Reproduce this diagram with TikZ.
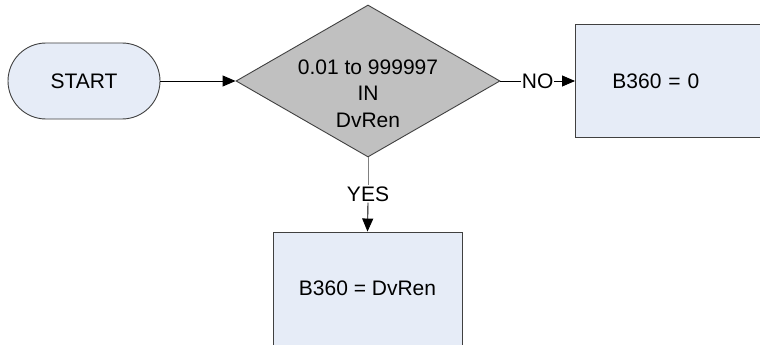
\documentclass[tikz,border=0pt]{standalone}
\usepackage{fontspec}
\setmainfont{Liberation Sans}
\usetikzlibrary{shapes.geometric,shapes.misc,arrows.meta}
\definecolor{boxfill}{HTML}{E6ECF7}
\definecolor{diafill}{HTML}{C0C0C0}
\definecolor{edge}{HTML}{404040}
\definecolor{greyline}{HTML}{808080}
\begin{document}
\begin{tikzpicture}[x=1pt,y=1pt,
  every node/.style={font=\fontsize{21}{26.5}\selectfont},
  startbox/.style={rounded rectangle, draw=edge, fill=boxfill, line width=0.9pt, minimum width=152pt, minimum height=76pt, inner sep=0pt},
  decision/.style={diamond, draw=edge, fill=diafill, line width=0.9pt, minimum width=264pt, minimum height=152pt, aspect=1.74, inner sep=0pt},
  procbox/.style={rectangle, draw=edge, fill=boxfill, line width=0.9pt, minimum width=189pt, minimum height=113pt, inner sep=0pt},
  tip/.style={-{Triangle[length=13pt,width=11pt]}},
  conn/.style={draw=black, line width=0.9pt, tip},
  lbl/.style={fill=white, inner sep=1pt}]
\clip (0,0) rectangle (760,-345);
\fill[white] (0,0) rectangle (760,-345);
\node[startbox] (start) at (84,-81) {START};
\node[decision] (dec) at (368,-81) {};
\node[align=center, inner sep=0pt] (dectext) at (368,-93.5) {0.01 to 999997\\IN\\DvRen};
\node[procbox, anchor=west, text width=115pt, align=left, inner xsep=37pt] (no) at (575,-81) {B360 = 0};
\node[procbox] (yes) at (367.5,-288.5) {B360 = DvRen};
\draw[conn] (start.east) -- (dec.west);
\draw[conn] (dec.east) -- node[lbl] (nolbl) {NO} (no.west);
\node[lbl] (yeslbl) at (368,-194) {YES};
\draw[draw=greyline, line width=0.9pt] (dec.south) -- (yeslbl.north);
\draw[conn] (yeslbl.south) -- (yes.north);
\end{tikzpicture}
\end{document}
